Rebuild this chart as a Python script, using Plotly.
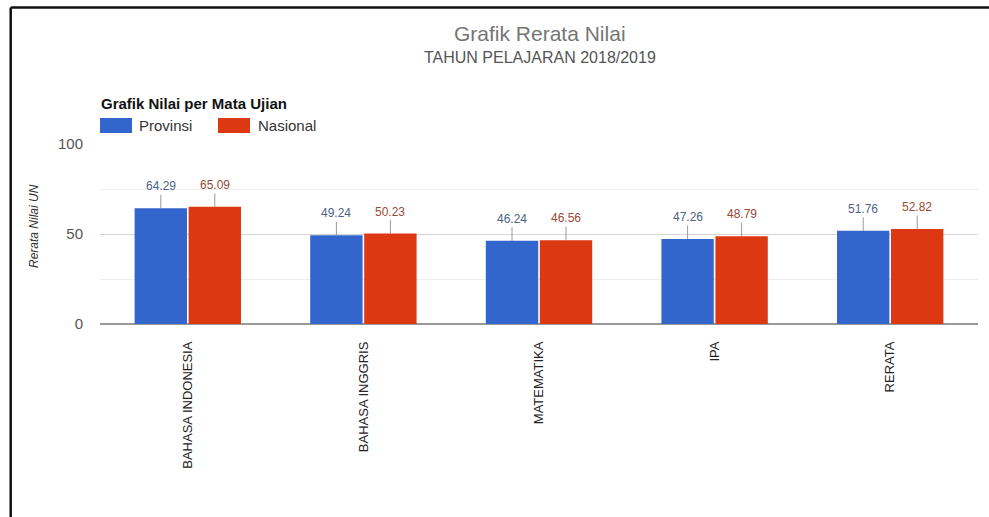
import plotly.graph_objects as go

# Average national exam scores, 2018/2019 school year
subjects = ["BAHASA INDONESIA", "BAHASA INGGRIS", "MATEMATIKA", "IPA", "RERATA"]
series_names = ["Provinsi", "Nasional"]
provinsi = [64.29, 49.24, 46.24, 47.26, 51.76]
nasional = [65.09, 50.23, 46.56, 48.79, 52.82]

colors = ["#3366cc", "#dc3912"]
label_colors = ["#4f5f86", "#9a4a34"]

W, H = 989, 517
L, R, T, B = 100, 11, 144, 193
PW, PH = W - L - R, H - T - B
BARGAP = 0.385
FONT = "Liberation Sans, Arial, sans-serif"


def px_x(px):
    return (px - L) / PW


def px_y(py):
    return (H - B - py) / PH


fig = go.Figure()
for name, vals, col in zip(series_names, [provinsi, nasional], colors):
    fig.add_trace(go.Bar(x=subjects, y=vals, name=name, marker_color=col,
                         marker_line_width=0, showlegend=False))

annotations = []
# value labels with a short leader line above each bar
slot = (1 - BARGAP) / 2
for k, (vals, lc) in enumerate(zip([provinsi, nasional], label_colors)):
    offset = (k - 0.5) * slot
    for i, v in enumerate(vals):
        annotations.append(dict(
            x=i + offset, y=v, xref="x", yref="y", text=f"{v:.2f}",
            showarrow=True, arrowhead=0, arrowwidth=1, arrowcolor="#9a9a9a",
            ax=0, ay=-22, font=dict(family=FONT, size=12, color=lc)))

# titles
annotations += [
    dict(x=px_x(540), y=px_y(34), xref="paper", yref="paper", showarrow=False,
         text="Grafik Rerata Nilai", xanchor="center", yanchor="middle",
         font=dict(family=FONT, size=21, color="#757575")),
    dict(x=px_x(540), y=px_y(58), xref="paper", yref="paper", showarrow=False,
         text="TAHUN PELAJARAN 2018/2019", xanchor="center", yanchor="middle",
         font=dict(family=FONT, size=16, color="#555555")),
    dict(x=px_x(34), y=px_y(226), xref="paper", yref="paper", showarrow=False,
         text="<i>Rerata Nilai UN</i>", textangle=-90, xanchor="center", yanchor="middle",
         font=dict(family=FONT, size=12, color="#333333")),
    dict(x=px_x(99), y=px_y(104), xref="paper", yref="paper", showarrow=False,
         text="<b>Grafik Nilai per Mata Ujian</b>", xanchor="left", yanchor="middle",
         font=dict(family=FONT, size=15, color="#111111")),
]

shapes = []
# legend swatches and labels
legend_items = [(100, 132, 137), (218, 250, 256)]
for (x0, x1, tx), name, col in zip(legend_items, series_names, colors):
    shapes.append(dict(type="rect", xref="paper", yref="paper",
                       x0=px_x(x0), x1=px_x(x1), y0=px_y(133), y1=px_y(118),
                       fillcolor=col, line_width=0))
    annotations.append(dict(x=px_x(tx), y=px_y(126), xref="paper", yref="paper",
                            showarrow=False, text=name, xanchor="left", yanchor="middle",
                            font=dict(family=FONT, size=15, color="#333333")))

# outer frame (top and left edges)
fx, fy = px_x(10.7), px_y(7.5)
shapes.append(dict(type="line", xref="paper", yref="paper", x0=fx, x1=fx, y0=px_y(530), y1=fy,
                   line=dict(color="#111111", width=2.5)))
shapes.append(dict(type="line", xref="paper", yref="paper", x0=fx, x1=px_x(1000), y0=fy, y1=fy,
                   line=dict(color="#111111", width=2.5)))

fig.update_layout(
    width=W, height=H,
    margin=dict(l=L, r=R, t=T, b=B, pad=0),
    paper_bgcolor="white", plot_bgcolor="white",
    barmode="group", bargap=BARGAP, bargroupgap=0.03,
    font=dict(family=FONT, size=12, color="#222222"),
    annotations=annotations, shapes=shapes,
    xaxis=dict(tickangle=-90, showgrid=False, showline=False, ticks="",
               ticklabelstandoff=14, tickfont=dict(family=FONT, size=13, color="#222222")),
    yaxis=dict(range=[0, 100], tickvals=[0, 50, 100], showgrid=True, gridcolor="#d4d4d4",
               gridwidth=1, zeroline=True, zerolinecolor="#999999", zerolinewidth=1.5,
               ticklabelstandoff=16, tickfont=dict(family=FONT, size=15, color="#555555"),
               minor=dict(tickvals=[25, 75], showgrid=True, gridcolor="#eeeeee", gridwidth=1),
               showline=False, ticks=""),
)

fig.write_html("out.html")
